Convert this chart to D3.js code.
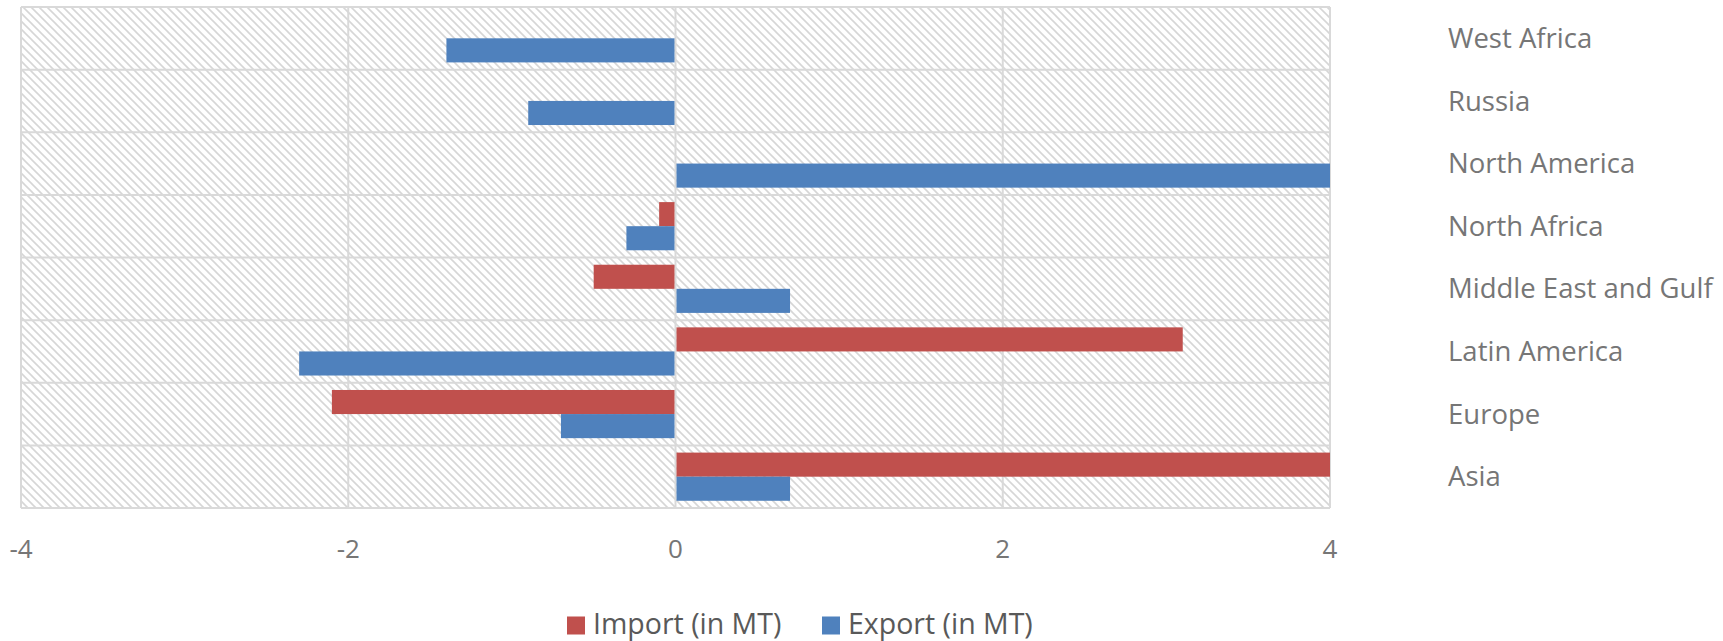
<!DOCTYPE html>
<html>
<head>
<meta charset="utf-8">
<script src="https://cdn.jsdelivr.net/npm/d3@7"></script>
<style>
  body { margin: 0; background: #fff; }
  svg { display: block; font-family: "Open Sans", sans-serif; }
</style>
</head>
<body>
<div id="chart"></div>
<script>
// regions, top to bottom as drawn
const regions = ["West Africa", "Russia", "North America", "North Africa",
                 "Middle East and Gulf", "Latin America", "Europe", "Asia"];
const importValues = [0, 0, 0, -0.1, -0.5, 3.1, -2.1, 4.0];
const exportValues = [-1.4, -0.9, 4.0, -0.3, 0.7, -2.3, -0.7, 0.7];
const seriesNames = ["Import (in MT)", "Export (in MT)"];
const seriesColors = ["#C0504D", "#4F81BD"];
const xTicks = [-4, -2, 0, 2, 4];

const width = 1723, height = 641;
const margin = { top: 7, right: 393, bottom: 133, left: 21 };

const svg = d3.select("#chart").append("svg")
    .attr("width", width)
    .attr("height", height);

const defs = svg.append("defs");
const pat = defs.append("pattern")
    .attr("id", "hatch")
    .attr("patternUnits", "userSpaceOnUse")
    .attr("width", 8)
    .attr("height", 8);
pat.append("rect").attr("width", 8).attr("height", 8).attr("fill", "#fff");
pat.append("path")
    .attr("d", "M-2,-2 L10,10 M-2,6 L2,10 M6,-2 L10,2")
    .attr("stroke", "#d6d6d6")
    .attr("stroke-width", 1.6);

const x = d3.scaleLinear()
    .domain([-4, 4])
    .range([margin.left, width - margin.right]);

const y = d3.scaleBand()
    .domain(regions)
    .range([margin.top, height - margin.bottom]);

const ySeries = d3.scaleBand()
    .domain(seriesNames)
    .range([0, y.bandwidth()])
    .paddingOuter(0.3);

// plot background
svg.append("rect")
    .attr("x", x(-4))
    .attr("y", y.range()[0])
    .attr("width", x(4) - x(-4))
    .attr("height", y.range()[1] - y.range()[0])
    .attr("fill", "url(#hatch)");

// grid lines
svg.append("g")
    .selectAll("line")
    .data(xTicks)
    .join("line")
    .attr("x1", d => x(d)).attr("x2", d => x(d))
    .attr("y1", y.range()[0]).attr("y2", y.range()[1])
    .attr("stroke", "#d9d9d9")
    .attr("stroke-width", 2);

svg.append("g")
    .selectAll("line")
    .data(regions.concat(["end"]))
    .join("line")
    .attr("x1", x(-4)).attr("x2", x(4))
    .attr("y1", (d, i) => y.range()[0] + i * y.step())
    .attr("y2", (d, i) => y.range()[0] + i * y.step())
    .attr("stroke", "#d9d9d9")
    .attr("stroke-width", 2);

// bars
const rows = regions.map((r, i) => ({ region: r, values: [importValues[i], exportValues[i]] }));

const groups = svg.append("g")
    .selectAll("g")
    .data(rows)
    .join("g")
    .attr("transform", d => `translate(0,${y(d.region)})`);

groups.selectAll("rect")
    .data(d => d.values.map((v, k) => ({ v: v, k: k })))
    .join("rect")
    .filter(d => d.v !== 0)
    .attr("x", d => d.v < 0 ? x(d.v) : x(0) + 1)
    .attr("y", d => ySeries(seriesNames[d.k]))
    .attr("width", d => Math.abs(x(d.v) - x(0)) - 1)
    .attr("height", ySeries.bandwidth())
    .attr("fill", d => seriesColors[d.k]);

// category labels on the right
svg.append("g")
    .selectAll("text")
    .data(regions)
    .join("text")
    .attr("x", 1448)
    .attr("y", d => y(d) + y.bandwidth() / 2)
    .attr("dy", "0.35em")
    .attr("fill", "#767676")
    .attr("font-size", 27.5)
    .text(d => d);

// x tick labels
svg.append("g")
    .selectAll("text")
    .data(xTicks)
    .join("text")
    .attr("x", d => x(d))
    .attr("y", 558)
    .attr("text-anchor", "middle")
    .attr("fill", "#767676")
    .attr("font-size", 26)
    .text(d => d < 0 ? "-" + Math.abs(d) : d);

// legend
const legend = svg.append("g");
const legendX = [567, 822];
seriesNames.forEach((name, i) => {
    legend.append("rect")
        .attr("x", legendX[i])
        .attr("y", 616.5)
        .attr("width", 18)
        .attr("height", 18)
        .attr("fill", seriesColors[i]);
    legend.append("text")
        .attr("x", legendX[i] + 26)
        .attr("y", 634)
        .attr("fill", "#595959")
        .attr("font-size", 28.5)
        .text(name);
});
</script>
</body>
</html>
